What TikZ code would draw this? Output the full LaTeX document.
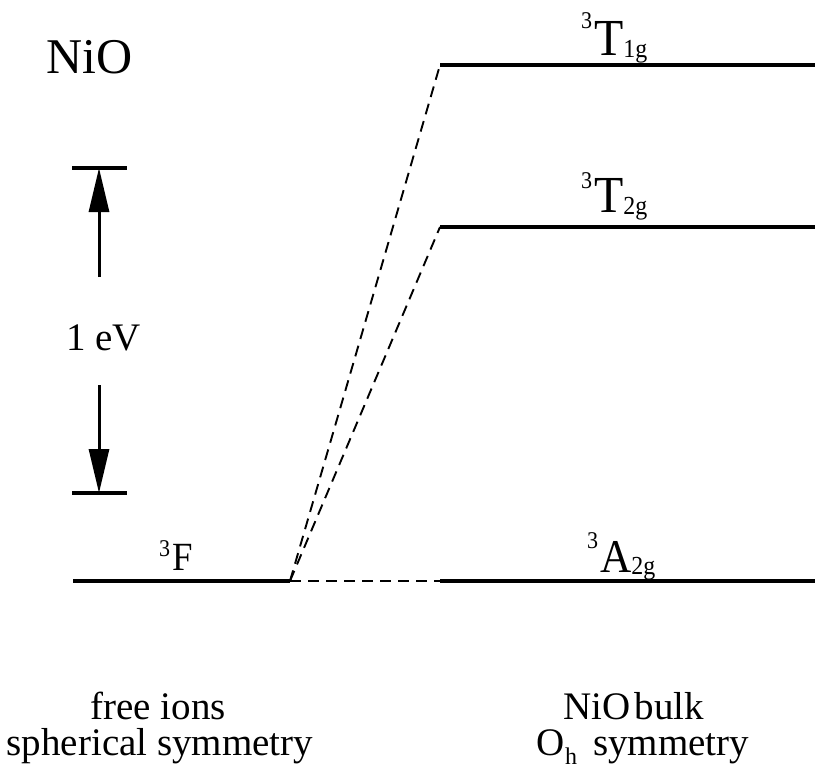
\documentclass[tikz,border=0pt]{standalone}
\usepackage{fontspec}
\setmainfont{Liberation Serif}
\newfontfamily\labfont[FakeStretch=0.92]{Liberation Serif}
\usetikzlibrary{arrows.meta}
\newcommand{\termsym}[3]{\raisebox{#3}{\fontsize{24}{24}\selectfont 3}\kern2pt #1\raisebox{-2pt}{\fontsize{26}{26}\selectfont #2}}
\tikzset{
  level/.style={line width=4.8pt},
  corr/.style={line width=1.9pt, dash pattern=on 11pt off 7pt},
  tick/.style={line width=3.2pt},
  scalearrow/.style={line width=3pt, -{Triangle[length=44pt,width=20pt]}},
  lbl/.style={inner sep=0pt, anchor=base west},
  captop/.style={font=\fontsize{39}{33}\selectfont, inner sep=0pt, anchor=base, text depth=0pt},
  capbot/.style={font=\fontsize{39}{33}\selectfont, inner sep=0pt, anchor=base, text height=26pt},
}
\begin{document}
\begin{tikzpicture}[x=1pt,y=-1pt]
\useasboundingbox (0,0) rectangle (815,782);
% level end points
\coordinate (Fl) at (73,581);
\coordinate (Fr) at (290,581);
\coordinate (Al) at (440,581);
\coordinate (Ar) at (815,581);
\coordinate (T2l) at (440,227);
\coordinate (T2r) at (815,227);
\coordinate (T1l) at (440,65);
\coordinate (T1r) at (815,65);
% levels
\draw[level] (Fl) -- (Fr);
\draw[level] (Al) -- (Ar);
\draw[level] (T2l) -- (T2r);
\draw[level] (T1l) -- (T1r);
% correlation lines
\draw[corr] (Fr) -- (Al);
\draw[corr] (Fr) -- (T2l);
\draw[corr] (Fr) -- (T1l);
% labels
\node[lbl, font=\labfont\fontsize{40}{40}\selectfont] (lF) at (159,570) {\termsym{F}{}{14pt}};
\node[lbl, font=\labfont\fontsize{52}{52}\selectfont] (lT1) at (581,55) {\termsym{T}{1g}{27pt}};
\node[lbl, font=\labfont\fontsize{52}{52}\selectfont] (lT2) at (581,212) {\termsym{T}{2g}{24pt}};
\node[lbl, font=\labfont\fontsize{47}{47}\selectfont] (lA) at (587,572) {\termsym{A}{2g}{24pt}};
\node[lbl, font=\fontsize{50}{50}\selectfont] (nio) at (46,73) {NiO};
% scale bar
\coordinate (tkTl) at (72,168);
\coordinate (tkTr) at (127,168);
\coordinate (tkBl) at (72,493);
\coordinate (tkBr) at (127,493);
\coordinate (tkT) at (99,168);
\coordinate (tkB) at (99,493);
\draw[tick] (tkTl) -- (tkTr);
\draw[tick] (tkBl) -- (tkBr);
\node[lbl, font=\fontsize{39}{39}\selectfont] (ev) at (66,350) {1 eV};
\coordinate (upS) at (99,277);
\coordinate (dnS) at (99,385);
\draw[scalearrow] (upS) -- (tkT);
\draw[scalearrow] (dnS) -- (tkB);
% bottom captions
\node[captop] (free1) at (158,719) {free ions};
\node[capbot] (free2) at (160,755) {spherical symmetry};
\node[captop] (bulk1) at (634,719) {NiO\hspace{4pt}bulk};
\node[capbot] (bulk2) at (643,755) {O\raisebox{-0.25em}{\fontsize{24}{24}\selectfont h}\hspace{16pt}symmetry};
\end{tikzpicture}
\end{document}
